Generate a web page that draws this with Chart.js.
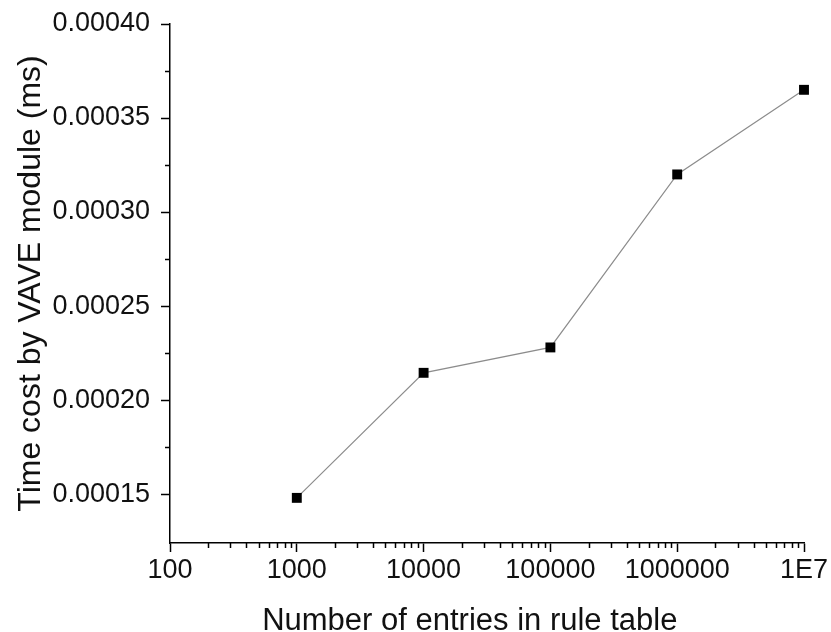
<!DOCTYPE html>
<html>
<head>
<meta charset="utf-8">
<script src="https://cdn.jsdelivr.net/npm/chart.js@4.4.0/dist/chart.umd.min.js"></script>
<style>
  html, body { margin: 0; padding: 0; background: #fff; }
  #wrap { width: 831px; height: 632px; }
</style>
</head>
<body>
<div id="wrap"><canvas id="myChart" width="831" height="632"></canvas></div>
<script>
// data
var entries = [1000, 10000, 100000, 1000000, 10000000];
var timeCost = [0.000148, 0.0002145, 0.000228, 0.00032, 0.000365];

// axis ticks
var xTicks = [100, 1000, 10000, 100000, 1000000, 10000000];
var xTickLabels = ["100", "1000", "10000", "100000", "1000000", "1E7"];
var yTicks = [0.00015, 0.0002, 0.00025, 0.0003, 0.00035, 0.0004];

var font = "'Liberation Sans', Arial, sans-serif";

// small unlabelled ticks between the big ones
var minorTicks = {
  id: "minorTicks",
  afterDraw: function (chart) {
    var ctx = chart.ctx;
    var x = chart.scales.x;
    var y = chart.scales.y;
    ctx.save();
    ctx.strokeStyle = "#000";
    ctx.lineWidth = 1.5;
    ctx.beginPath();
    for (var i = 0; i < xTicks.length - 1; i++) {
      for (var k = 2; k <= 9; k++) {
        var px = Math.round(x.getPixelForValue(xTicks[i] * k)) + 0.5;
        ctx.moveTo(px, x.top);
        ctx.lineTo(px, x.top + 5);
      }
    }
    for (var j = 0; j < yTicks.length - 1; j++) {
      var py = Math.round(y.getPixelForValue((yTicks[j] + yTicks[j + 1]) / 2)) + 0.5;
      ctx.moveTo(y.right, py);
      ctx.lineTo(y.right - 5, py);
    }
    ctx.stroke();
    ctx.restore();
  }
};

let ctx = document.getElementById("myChart");

let myChart = new Chart(ctx, {
  type: "line",
  data: {
    datasets: [
      {
        data: entries.map(function (e, i) { return { x: e, y: timeCost[i] }; }),
        borderColor: "#8c8c8c",
        borderWidth: 1.2,
        pointStyle: "rect",
        pointRadius: 7,
        pointBackgroundColor: "#000",
        pointBorderColor: "#000",
        pointBorderWidth: 0,
        tension: 0,
        clip: false,
      },
    ],
  },
  options: {
    responsive: false,
    animation: false,
    layout: { padding: { top: 24, right: 27, left: 0, bottom: 0 } },
    plugins: {
      legend: { display: false },
      tooltip: { enabled: false },
    },
    scales: {
      x: {
        type: "logarithmic",
        min: 100,
        max: 10000000,
        afterBuildTicks: function (scale) {
          scale.ticks = xTicks.map(function (v) { return { value: v }; });
        },
        afterFit: function (scale) { scale.height = 89; },
        grid: { drawOnChartArea: false, tickLength: 9, tickColor: "#000", tickWidth: 1.5 },
        border: { color: "#000", width: 1.5 },
        ticks: {
          autoSkip: false,
          maxRotation: 0,
          padding: 2,
          color: "#111",
          font: { family: font, size: 27 },
          callback: function (v) {
            var i = xTicks.indexOf(v);
            return i >= 0 ? xTickLabels[i] : "";
          },
        },
        title: {
          display: true,
          // trailing spaces nudge the centred title a little to the left, as in the original
          text: "Number of entries in rule table\u00a0\u00a0\u00a0\u00a0",
          color: "#111",
          font: { family: font, size: 31, lineHeight: 0.65 },
          padding: { top: 0, bottom: 0 },
        },
      },
      y: {
        min: 0.000124,
        max: 0.0004,
        afterBuildTicks: function (scale) {
          scale.ticks = yTicks.map(function (v) { return { value: v }; });
        },
        afterFit: function (scale) {
          scale.width = 170;
          scale.paddingTop = 0;
          scale.paddingBottom = 0;
        },
        grid: { drawOnChartArea: false, tickLength: 9, tickColor: "#000", tickWidth: 1.5 },
        border: { color: "#000", width: 1.5 },
        ticks: {
          padding: 11,
          color: "#111",
          font: { family: font, size: 27 },
          callback: function (v) { return v.toFixed(5); },
        },
        title: {
          display: true,
          text: "Time cost by VAVE module (ms)",
          color: "#111",
          font: { family: font, size: 32, lineHeight: 1 },
          padding: { top: 15, bottom: 0 },
        },
      },
    },
  },
  plugins: [minorTicks],
});
</script>
</body>
</html>
